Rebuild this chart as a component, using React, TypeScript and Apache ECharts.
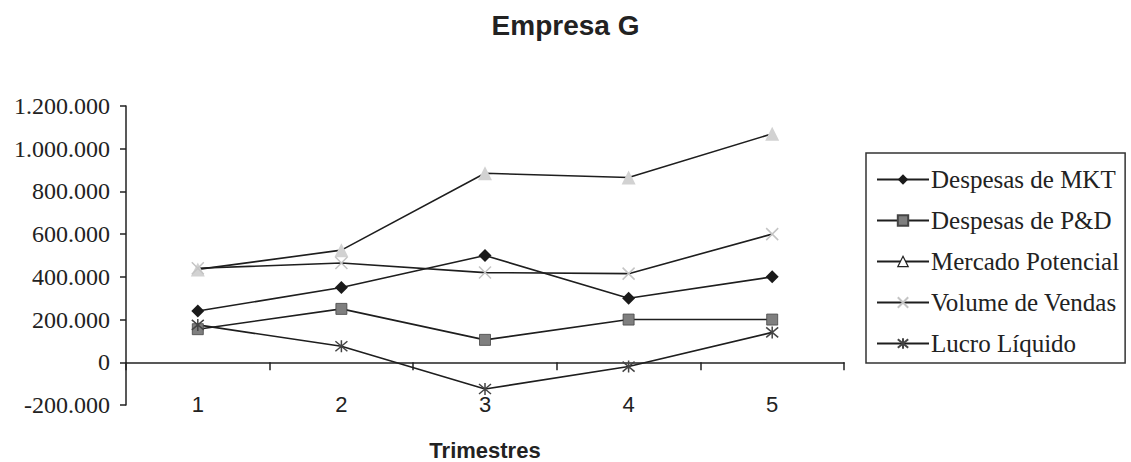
import React, { useEffect, useRef } from 'react';
import * as echarts from 'echarts';

const categories = ['1', '2', '3', '4', '5'];
const despesasMkt = [240000, 350000, 500000, 300000, 400000];
const despesasPD = [155000, 250000, 105000, 200000, 200000];
const mercadoPotencial = [435000, 525000, 885000, 865000, 1070000];
const volumeVendas = [440000, 465000, 420000, 415000, 600000];
const lucroLiquido = [175000, 75000, -125000, -20000, 140000];
const seriesNames = ['Despesas de MKT', 'Despesas de P&D', 'Mercado Potencial', 'Volume de Vendas', 'Lucro Líquido'];
const yMin = -200000;
const yMax = 1200000;
const yInterval = 200000;

const fmt = (v: number) => {
  const s = String(Math.abs(v)).replace(/\B(?=(\d{3})+(?!\d))/g, '.');
  return (v < 0 ? '-' : '') + s;
};

const LINE = '#1e1e1e';
const X_PATH = 'path://M0 0L10 10M10 0L0 10';
const STAR_PATH = 'path://M0 0L10 10M10 0L0 10M5 -1L5 11';

export default function App() {
  const ref = useRef<HTMLDivElement>(null);
  useEffect(() => {
    document.body.style.margin = '0';
    const chart = echarts.init(ref.current!, undefined, { renderer: 'svg' });
    const lineStyle = { color: LINE, width: 1.6 };
    chart.setOption({
      animation: false,
      backgroundColor: '#ffffff',
      title: {
        text: 'Empresa G',
        left: 'center',
        top: 6,
        textStyle: { fontFamily: 'Liberation Sans', fontWeight: 'bold', fontSize: 28, color: '#222' },
      },
      legend: {
        orient: 'vertical',
        left: 866,
        top: 153,
        padding: [13, 6, 6, 10],
        itemWidth: 52,
        itemHeight: 13,
        itemGap: 14,
        borderColor: '#333',
        borderWidth: 1.5,
        textStyle: { fontFamily: 'Liberation Serif', fontSize: 25, lineHeight: 27, color: '#222', padding: [0, 0, 0, -3] },
        data: [
          { name: seriesNames[0] },
          { name: seriesNames[1] },
          { name: seriesNames[2], itemStyle: { color: '#ffffff', borderColor: '#222', borderWidth: 1.2 } },
          { name: seriesNames[3] },
          { name: seriesNames[4] },
        ],
      },
      grid: { left: 126, right: 287, top: 106, bottom: 57, containLabel: false, outerBoundsMode: 'none' },
      xAxis: {
        type: 'category',
        data: categories,
        boundaryGap: true,
        axisLine: { onZero: true, lineStyle: { color: '#222', width: 1.5 } },
        axisTick: { show: true, inside: false, length: 8, lineStyle: { color: '#222', width: 1.5 } },
        axisLabel: { margin: -12, fontFamily: 'Liberation Sans', fontSize: 22, color: '#222' },
        name: 'Trimestres',
        nameLocation: 'middle',
        nameGap: 34,
        nameTextStyle: { fontFamily: 'Liberation Sans', fontWeight: 'bold', fontSize: 22, color: '#222' },
      },
      yAxis: {
        type: 'value',
        min: yMin,
        max: yMax,
        interval: yInterval,
        splitLine: { show: false },
        axisLine: { show: true, lineStyle: { color: '#222', width: 1.5 } },
        axisTick: { show: true, length: 6, lineStyle: { color: '#222', width: 1.5 } },
        axisLabel: { margin: 16, fontFamily: 'Liberation Serif', fontSize: 24, color: '#222', formatter: fmt },
      },
      series: [
        {
          name: seriesNames[0], type: 'line', data: despesasMkt,
          symbol: 'diamond', symbolSize: 13,
          itemStyle: { color: '#1a1a1a' }, lineStyle,
        },
        {
          name: seriesNames[1], type: 'line', data: despesasPD,
          symbol: 'rect', symbolSize: 11,
          itemStyle: { color: '#7f7f7f', borderColor: '#444', borderWidth: 0.8 }, lineStyle,
        },
        {
          name: seriesNames[2], type: 'line', data: mercadoPotencial,
          symbol: 'triangle', symbolSize: 14,
          itemStyle: { color: '#d2d2d2' }, lineStyle,
        },
        {
          name: seriesNames[3], type: 'line', data: volumeVendas,
          symbol: X_PATH, symbolSize: 12,
          itemStyle: { color: '#c4c4c4', borderColor: '#c4c4c4', borderWidth: 1.5 }, lineStyle,
        },
        {
          name: seriesNames[4], type: 'line', data: lucroLiquido,
          symbol: STAR_PATH, symbolSize: 12,
          itemStyle: { color: '#444', borderColor: '#444', borderWidth: 1.5 }, lineStyle,
        },
      ],
    });
    return () => chart.dispose();
  }, []);
  return <div ref={ref} style={{ position: 'absolute', left: 0, top: 0, width: 1131, height: 462 }} />;
}
